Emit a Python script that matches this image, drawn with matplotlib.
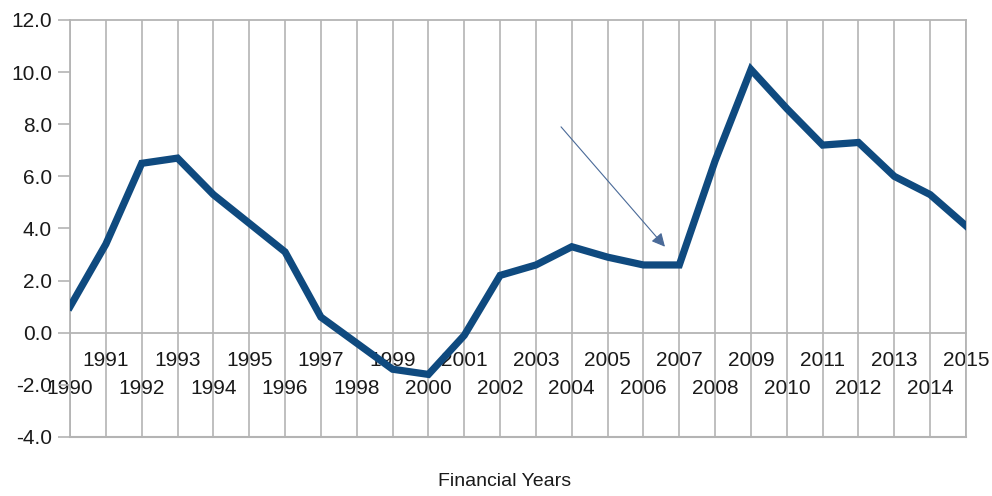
import matplotlib.pyplot as plt
from matplotlib.ticker import FixedLocator, FixedFormatter

plt.rcParams['font.family'] = ['Liberation Sans', 'DejaVu Sans']

years = list(range(1990, 2016))
growth = [1.0, 3.4, 6.5, 6.7, 5.3, 4.2, 3.1, 0.6, -0.4, -1.4,
          -1.6, -0.1, 2.2, 2.6, 3.3, 2.9, 2.6, 2.6, 6.6, 10.1,
          8.6, 7.2, 7.3, 6.0, 5.3, 4.1]
odd_years = [y for y in years if y % 2 == 1]
even_years = [y for y in years if y % 2 == 0]
y_ticks = [-4, -2, 0, 2, 4, 6, 8, 10, 12]

# arrow from / to (data units)
arrow_from = (2003.7, 7.9)
arrow_to = (2006.6, 3.3)

grid_c = '#b4b4b4'
line_c = '#0f4a7f'
txt_c = '#1a1a1a'

fig = plt.figure(figsize=(9.92, 4.96), dpi=100)
ax = fig.add_axes([0.0706, 0.119, 0.9032, 0.8407])

ax.plot(years, growth, color=line_c, lw=5.2, solid_joinstyle='miter', zorder=3)

ax.annotate('', xy=arrow_to, xytext=arrow_from,
            arrowprops=dict(arrowstyle='-|>', color='#4a6a98', lw=0.8,
                            mutation_scale=20, shrinkA=0, shrinkB=0))

ax.set_xlim(years[0], years[-1])
ax.set_ylim(y_ticks[0], y_ticks[-1])

# x axis sits at y = 0, labels staggered in two rows
ax.spines['bottom'].set_position(('data', 0))
ax.xaxis.set_major_locator(FixedLocator(odd_years))
ax.xaxis.set_major_formatter(FixedFormatter([str(y) for y in odd_years]))
ax.xaxis.set_minor_locator(FixedLocator(even_years))
ax.xaxis.set_minor_formatter(FixedFormatter([str(y) for y in even_years]))
ax.tick_params(axis='x', which='major', length=0, pad=13, labelsize=15, labelcolor=txt_c)
ax.tick_params(axis='x', which='minor', length=0, pad=33, labelsize=15, labelcolor=txt_c)
ax.grid(axis='x', which='both', color=grid_c, lw=1.2)
ax.axhline(y_ticks[0], color=grid_c, lw=1.5, clip_on=False)

ax.set_yticks(y_ticks)
ax.set_yticklabels(['%.1f' % v for v in y_ticks])
ax.tick_params(axis='y', length=9, width=1.2, color=grid_c, pad=4, labelsize=15, labelcolor=txt_c)

for s in ax.spines.values():
    s.set_color(grid_c)
    s.set_linewidth(1.3)

fig.text(0.509, 0.012, 'Financial Years', ha='center', va='bottom', fontsize=14, color=txt_c)

fig.savefig('out.png', dpi=100)
